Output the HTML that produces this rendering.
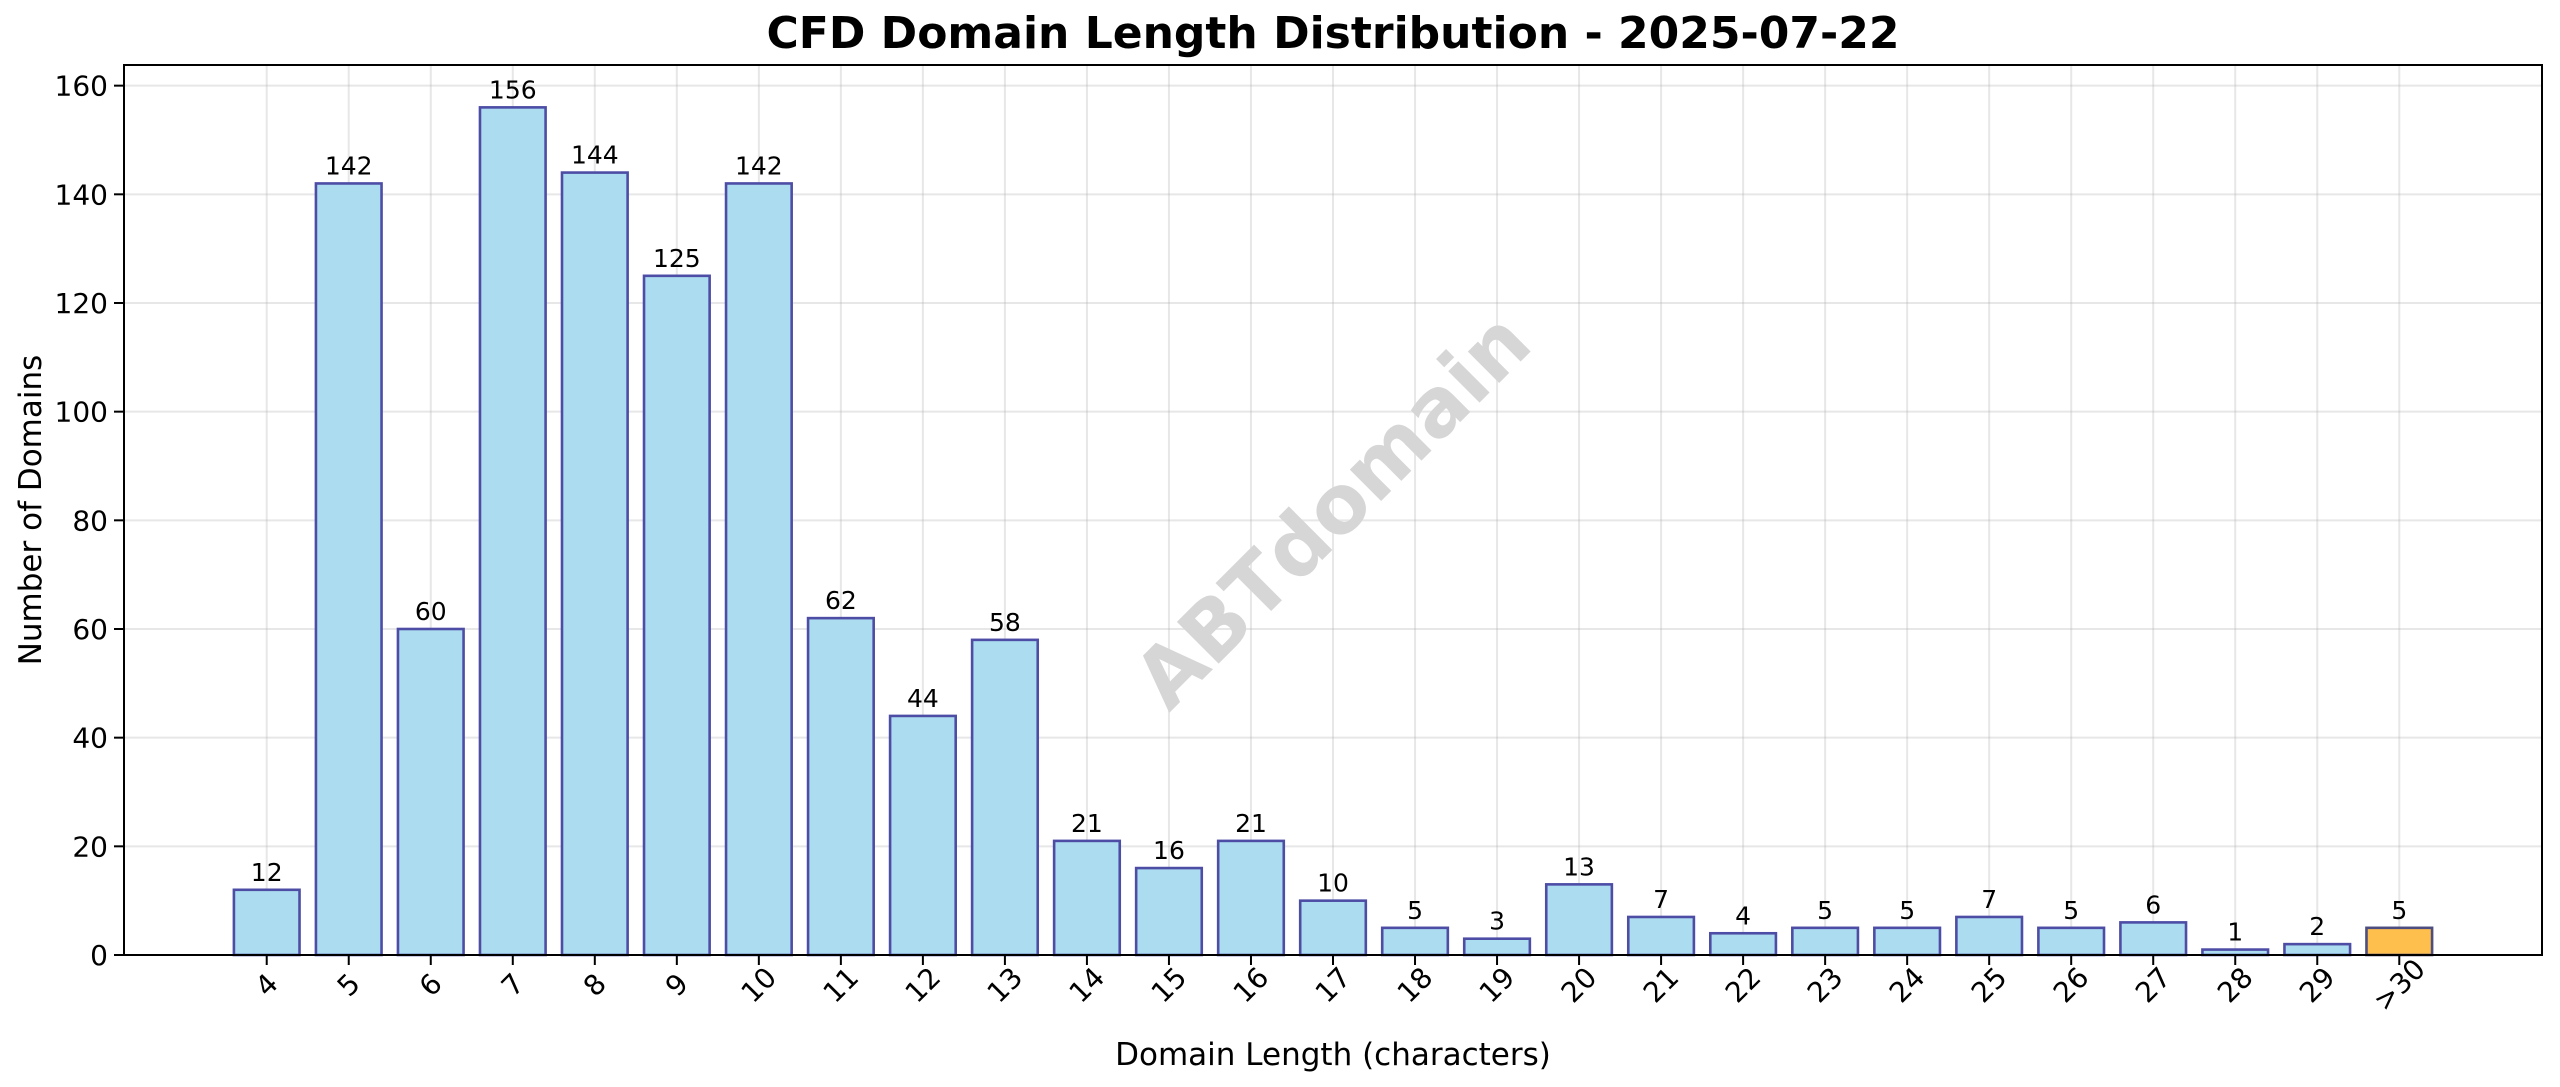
<!DOCTYPE html>
<html><head><meta charset="utf-8"><style>
html,body{margin:0;padding:0;background:#fff}
svg{display:block;font-family:"DejaVu Sans","Liberation Sans",sans-serif}
</style></head><body>
<svg id="chart" width="2560" height="1087" viewBox="0 0 2560 1087" xmlns="http://www.w3.org/2000/svg">
<rect x="0" y="0" width="2560" height="1087" fill="#fff"/>
<g id="grid"></g>
<text x="1333" y="511" font-size="81" font-weight="bold" fill="#d6d6d6" text-anchor="middle" dominant-baseline="central" transform="rotate(-45 1333 511)">ABTdomain</text>
<g id="bars"></g>
<g id="axes"></g>
<text x="1333" y="48" font-size="44" font-weight="bold" text-anchor="middle" fill="#000">CFD Domain Length Distribution - 2025-07-22</text>
<text x="1333" y="1065" font-size="31" text-anchor="middle" fill="#000">Domain Length (characters)</text>
<text x="0" y="0" font-size="31" text-anchor="middle" fill="#000" transform="translate(41 510) rotate(-90)">Number of Domains</text>
</svg>
<script>
const categories = ["4","5","6","7","8","9","10","11","12","13","14","15","16","17","18","19","20","21","22","23","24","25","26","27","28","29",">30"];
const counts = [12,142,60,156,144,125,142,62,44,58,21,16,21,10,5,3,13,7,4,5,5,7,5,6,1,2,5];
const yTicks = [0,20,40,60,80,100,120,140,160];
const NS = "http://www.w3.org/2000/svg";
const L=124,R=2542,T=65,B=955;
const n = categories.length;
const xmin=-0.4-0.05*(n-0.2), xmax=n-0.6+0.05*(n-0.2);
const ymax = Math.max(...counts)*1.05;
function xs(v){return L+(v-xmin)/(xmax-xmin)*(R-L);}
function ys(v){return B-v/ymax*(B-T);}
function mk(tag,attrs,parent){const e=document.createElementNS(NS,tag);for(const k in attrs)e.setAttribute(k,attrs[k]);parent.appendChild(e);return e;}
const grid=document.getElementById('grid'),bars=document.getElementById('bars'),axes=document.getElementById('axes');
yTicks.forEach(t=>{
  const g=mk('line',{x1:L,x2:R,y1:ys(t),y2:ys(t),stroke:'#b0b0b0','stroke-opacity':0.3,'stroke-width':2},grid);
  
  
  const tk=mk('line',{x1:L-10,x2:L,y1:ys(t),y2:ys(t),stroke:'#000','stroke-width':2},axes);
  
  
  const tl=mk('text',{x:L-16,y:ys(t)+10,'font-size':28,'text-anchor':'end',fill:'#000'},axes);
  tl.textContent=t;
  
  
});
const bw=0.8*(xs(1)-xs(0));
categories.forEach((c,i)=>{
  const cx=xs(i);
  const g=mk('line',{x1:cx,x2:cx,y1:T,y2:B,stroke:'#b0b0b0','stroke-opacity':0.3,'stroke-width':2},grid);
  
  
  const v=counts[i];
  const orange = c===">30";
  const r=mk('rect',{x:cx-bw/2,y:ys(v),width:bw,height:B-ys(v),fill:orange?'#ffbf4d':'#abdcef',stroke:orange?'#4d4d80':'#4d4da6','stroke-width':2.6},bars);
  
  
  const vl=mk('text',{x:cx,y:ys(v)-9,'font-size':25,'text-anchor':'middle',fill:'#000'},bars);
  vl.textContent=v;
  
  
  const tk=mk('line',{x1:cx,x2:cx,y1:B,y2:B+10,stroke:'#000','stroke-width':2},axes);
  
  
  const ty=985;
  const tl=mk('text',{x:cx,y:ty,'font-size':28,'text-anchor':'middle','dominant-baseline':'central',fill:'#000',transform:`rotate(-45 ${cx} ${ty})`},axes);
  tl.textContent=c;
  
  
});
const fr=mk('rect',{x:L,y:T,width:R-L,height:B-T,fill:'none',stroke:'#000','stroke-width':2},axes);


</script>
</body></html>
